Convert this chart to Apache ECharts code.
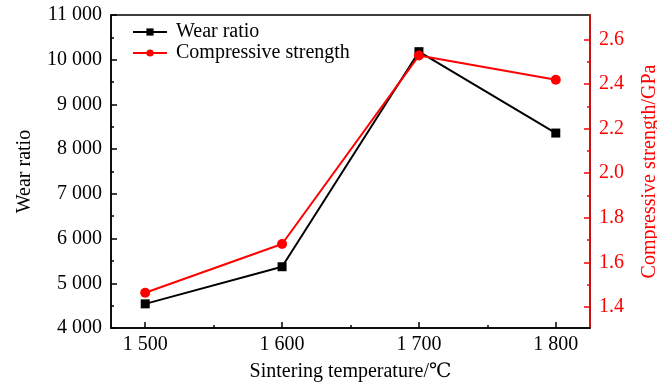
<!DOCTYPE html>
<html lang="en">
<head>
    <meta charset="UTF-8">
    <title>Wear ratio / compressive strength</title>
    <script src="https://cdnjs.cloudflare.com/ajax/libs/echarts/6.0.0/echarts.min.js"></script>
    <style>
        html, body { margin: 0; padding: 0; background: #fff; }
        #main { width: 657px; height: 384px; }
    </style>
</head>
<body>
    <div id="main"></div>
<script>
    // data
    var temps = [1500, 1600, 1700, 1800];
    var wearRatio = [4540, 5370, 10180, 8360];
    var strength = [1.463, 1.682, 2.528, 2.419];

    var xMajor = [1500, 1600, 1700, 1800];
    var xMinor = [1550, 1650, 1750];
    var rightMajor = [1.4, 1.6, 1.8, 2.0, 2.2, 2.4, 2.6];
    var rightMinor = [1.5, 1.7, 1.9, 2.1, 2.3, 2.5];

    var FONT = '"Liberation Serif", "DejaVu Serif", serif';
    var RED = '#ff0000';

    function spaced(v) {
        return String(Math.round(v)).replace(/\B(?=(\d{3})+(?!\d))/g, ' ');
    }

    var chart = echarts.init(document.getElementById('main'));

    var option = {
        animation: false,
        textStyle: { fontFamily: FONT },
        grid: {
            left: 111, right: 67, top: 15, bottom: 56,
            outerBoundsMode: 'none', containLabel: false,
            show: true, borderColor: '#000', borderWidth: 1.5
        },
        legend: {
            left: 127, top: 17,
            orient: 'vertical',
            itemWidth: 34, itemHeight: 9, itemGap: 1,
            textStyle: { fontFamily: FONT, fontSize: 20, color: '#000', padding: [0, 0, 0, 4] },
            data: ['Wear ratio', 'Compressive strength']
        },
        xAxis: [{
            type: 'value', min: 1475, max: 1825,
            name: 'Sintering temperature/℃', nameLocation: 'middle', nameGap: 34,
            nameTextStyle: { fontFamily: FONT, fontSize: 20, color: '#000' },
            axisLine: { lineStyle: { color: '#000', width: 1.5 } },
            axisTick: { inside: true, length: 6, customValues: xMajor, lineStyle: { color: '#000', width: 1.5 } },
            axisLabel: { customValues: xMajor, fontFamily: FONT, fontSize: 20, color: '#000', margin: 7, formatter: spaced },
            splitLine: { show: false }
        }, {
            type: 'value', min: 1475, max: 1825, position: 'bottom',
            axisLine: { show: false },
            axisTick: { inside: true, length: 3, customValues: xMinor, lineStyle: { color: '#000', width: 1.5 } },
            axisLabel: { show: false },
            splitLine: { show: false }
        }],
        yAxis: [{
            type: 'value', min: 4000, max: 11000, interval: 1000, position: 'left',
            name: 'Wear ratio', nameLocation: 'middle', nameGap: 76, nameRotate: 90,
            nameTextStyle: { fontFamily: FONT, fontSize: 20, color: '#000' },
            axisLine: { show: true, lineStyle: { color: '#000', width: 1.5 } },
            axisTick: { inside: true, length: 6, lineStyle: { color: '#000', width: 1.5 } },
            minorTick: { show: true, splitNumber: 2, length: 3, lineStyle: { color: '#000', width: 1.5 } },
            axisLabel: { fontFamily: FONT, fontSize: 20, color: '#000', margin: 9, formatter: spaced },
            splitLine: { show: false }
        }, {
            type: 'value', min: 1.305, max: 2.71, position: 'right',
            name: 'Compressive strength/GPa', nameLocation: 'middle', nameGap: 50, nameRotate: 90,
            nameTextStyle: { fontFamily: FONT, fontSize: 20, color: RED },
            axisLine: { show: true, lineStyle: { color: RED, width: 1.5 } },
            axisTick: { inside: true, length: 6, customValues: rightMajor, lineStyle: { color: RED, width: 1.5 } },
            axisLabel: {
                customValues: rightMajor, fontFamily: FONT, fontSize: 20, color: RED, margin: 9,
                formatter: function (v) { return v.toFixed(1); }
            },
            splitLine: { show: false }
        }, {
            type: 'value', min: 1.305, max: 2.71, position: 'right',
            axisLine: { show: false },
            axisTick: { inside: true, length: 3, customValues: rightMinor, lineStyle: { color: RED, width: 1.5 } },
            axisLabel: { show: false },
            splitLine: { show: false }
        }],
        series: [{
            name: 'Wear ratio', type: 'line',
            xAxisIndex: 0, yAxisIndex: 0,
            data: temps.map(function (t, i) { return [t, wearRatio[i]]; }),
            symbol: 'rect', symbolSize: 9,
            itemStyle: { color: '#000' },
            lineStyle: { color: '#000', width: 2 }
        }, {
            name: 'Compressive strength', type: 'line',
            xAxisIndex: 0, yAxisIndex: 1,
            data: temps.map(function (t, i) { return [t, strength[i]]; }),
            symbol: 'circle', symbolSize: 10,
            itemStyle: { color: RED },
            lineStyle: { color: RED, width: 2 }
        }]
    };

    chart.setOption(option);
</script>
</body>
</html>
